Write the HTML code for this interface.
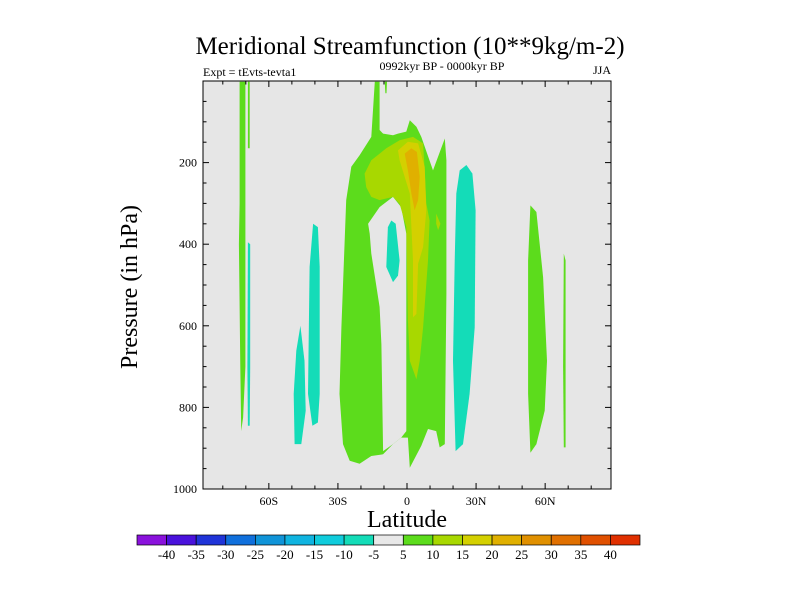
<!DOCTYPE html>
<html><head><meta charset="utf-8"><style>
body{margin:0;background:#fff;}
svg{display:block;font-family:"Liberation Serif",serif;}
</style></head><body>
<svg id="chart" width="800" height="600" viewBox="0 0 800 600">
<text x="410" y="54" font-size="25" text-anchor="middle">Meridional Streamfunction (10**9kg/m-2)</text>
<text x="203" y="76" font-size="12">Expt = tEvts-tevta1</text>
<text x="442" y="70" font-size="12" text-anchor="middle">0992kyr BP - 0000kyr BP</text>
<text x="611" y="74" font-size="12" text-anchor="end">JJA</text>
<text transform="translate(137,287) rotate(-90)" font-size="24" text-anchor="middle">Pressure (in hPa)</text>
<text x="407" y="527" font-size="24" text-anchor="middle">Latitude</text>
<g id="plot"></g>
<g id="cbar"></g>
</svg>
<script>
const NS="http://www.w3.org/2000/svg";
const xTickValues=[-60,-30,0,30,60];
const xTickLabels=["60S","30S","0","30N","60N"];
const yTickValues=[200,400,600,800,1000];
const yTickLabels=["200","400","600","800","1000"];
const cbarLevels=[-40,-35,-30,-25,-20,-15,-10,-5,5,10,15,20,25,30,35,40];
const cbarColors=["#8a12dc","#4a12dc","#2034d8","#1070dc","#1094d8","#10b4e0","#10ccdc","#14dcb8","#e8e8e8","#5cdc1c","#a8d800","#d4d000","#e0b000","#e09000","#e07000","#e05000","#e03000"];
// contour regions: value, polygon of [lat, pressure]
const regionValues=[5,7,-7,-7,-7,-7,-7,5,5,5,5,0,-7,10,15,20,10];
const regionShapes=[
 [[-72.7,2],[-70.2,2],[-70.2,350],[-70.2,700],[-71.2,825],[-72.0,858],[-72.4,700],[-73.0,400],[-72.7,300]],
 [[-69.1,2],[-68.3,2],[-68.3,165],[-69.1,165]],
 [[-69.1,395],[-68.1,400],[-68.1,700],[-68.3,845],[-69.1,845],[-69.3,700]],
 [[-46.3,600],[-44.5,686],[-44.0,808],[-45.9,890],[-48.8,890],[-49.2,767],[-48.1,661]],
 [[-40.8,350],[-38.7,358],[-37.9,456],[-37.9,767],[-38.7,837],[-41.1,845],[-43.0,767],[-42.3,456]],
 [[25.8,206],[28.4,227],[29.8,317],[29.4,604],[27.2,767],[24.3,890],[21.1,907],[20.0,686],[20.7,440],[21.4,276],[22.9,219]],
 [[-6.8,342],[-4.9,350],[-3.2,440],[-3.9,477],[-6.1,493],[-9.0,456],[-8.3,358]],
 [[-14.0,2],[-11.9,2],[-11.9,120],[-10.4,129],[-6.1,133],[-3.9,129],[-0.3,124],[1.2,96],[4.1,112],[6.2,137],[11.3,219],[16.4,141],[17.1,194],[17.1,522],[16.4,890],[14.2,898],[12.7,858],[9.1,853],[6.2,894],[1.2,948],[0.4,874],[-2.5,874],[-6.1,890],[-10.4,915],[-15.5,919],[-20.6,938],[-24.9,931],[-27.8,890],[-29.3,767],[-28.5,604],[-26.4,292],[-24.2,210],[-20.6,182],[-15.5,137]],
 [[53.6,305],[56.2,321],[59.1,481],[60.8,686],[59.8,808],[56.2,890],[53.6,911],[52.6,767],[52.6,440]],
 [[68.1,423],[68.9,440],[68.9,898],[68.1,898],[67.8,700]],
 [[-8.7,2],[-9.7,2],[-9.4,30],[-8.9,30]],
 [[-16.9,350],[-11.9,309],[-6.1,284],[-2.5,309],[-0.3,374],[-0.3,858],[-2.5,874],[-6.1,890],[-10.4,907],[-11.1,645],[-11.9,554],[-15.5,423],[-16.2,374]],
 [[-6.8,342],[-4.9,350],[-3.2,440],[-3.9,477],[-6.1,493],[-9.0,456],[-8.3,358]],
 [[-18.4,227],[-15.5,194],[-9.0,165],[-3.2,145],[2.6,137],[7.0,153],[7.7,219],[8.4,300],[9.8,342],[9.1,440],[7.0,604],[5.5,686],[4.1,731],[1.2,686],[0.4,587],[-0.3,358],[-3.2,301],[-6.1,284],[-11.9,292],[-15.5,284],[-17.7,260]],
 [[-3.9,170],[0.4,149],[4.8,153],[7.7,210],[8.4,317],[7.0,407],[4.8,448],[4.1,571],[2.6,579],[2.6,440],[1.2,276],[-3.2,194]],
 [[-1.0,178],[1.9,165],[4.3,174],[5.5,235],[4.8,292],[3.3,317],[1.9,276],[0.4,219]],
 [[12.7,325],[14.5,350],[13.5,366],[12.7,350]]
];
const X0=203,X1=611,Y0=81,Y1=489,LATMIN=-88.6,LATMAX=88.6,PMIN=0,PMAX=1000;
const xS=l=>X0+(l-LATMIN)/(LATMAX-LATMIN)*(X1-X0);
const yS=p=>Y0+(p-PMIN)/(PMAX-PMIN)*(Y1-Y0);
function colorFor(v){
  if(v>-5&&v<5)return cbarColors[8];
  let i=0;while(i<cbarLevels.length&&v>=cbarLevels[i])i++;
  return cbarColors[i];
}
function mk(tag,attrs,parent){const e=document.createElementNS(NS,tag);for(const k in attrs)e.setAttribute(k,attrs[k]);parent.appendChild(e);return e;}
const plot=document.getElementById('plot');
const bg=mk('rect',{x:X0,y:Y0,width:X1-X0,height:Y1-Y0,fill:'#e6e6e6'},plot);


regionShapes.forEach((shape,i)=>{
  const c=regionValues[i]===0?'#e6e6e6':colorFor(regionValues[i]);
  const pg=mk('polygon',{points:shape.map(q=>xS(q[0]).toFixed(1)+','+yS(q[1]).toFixed(1)).join(' '),fill:c},plot);
  
  
});
const frame=mk('rect',{x:X0,y:Y0,width:X1-X0,height:Y1-Y0,fill:'none',stroke:'#000','stroke-width':1},plot);


for(let l=-80;l<=80;l+=10){
  const major=l%30===0,len=major?6:3.5,x=xS(l);
  mk('line',{x1:x,y1:Y1,x2:x,y2:Y1-len,stroke:'#000'},plot);
  mk('line',{x1:x,y1:Y0,x2:x,y2:Y0+len,stroke:'#000'},plot);
}
for(let p=50;p<1000;p+=50){
  const major=p%200===0,len=major?6:3.5,y=yS(p);
  mk('line',{x1:X0,y1:y,x2:X0+len,y2:y,stroke:'#000'},plot);
  mk('line',{x1:X1,y1:y,x2:X1-len,y2:y,stroke:'#000'},plot);
}
xTickValues.forEach((v,i)=>{
  const t=mk('text',{x:xS(v),y:505,'font-size':12,'text-anchor':'middle'},plot);t.textContent=xTickLabels[i];
  
  
});
yTickValues.forEach((v,i)=>{
  const t=mk('text',{x:X0-6,y:yS(v)+4,'font-size':12,'text-anchor':'end'},plot);t.textContent=yTickLabels[i];
  
  
});
const cb=document.getElementById('cbar');
const CB0=137,CB1=640,CBY=535,CBH=10,bw=(CB1-CB0)/cbarColors.length;
cbarColors.forEach((c,i)=>{
  const r=mk('rect',{x:CB0+i*bw,y:CBY,width:bw,height:CBH,fill:c,stroke:'#000','stroke-width':0.7},cb);
  
  
});
cbarLevels.forEach((v,i)=>{
  const t=mk('text',{x:CB0+(i+1)*bw,y:559,'font-size':13,'text-anchor':'middle'},cb);t.textContent=v;
  
  
});
</script>
</body></html>
